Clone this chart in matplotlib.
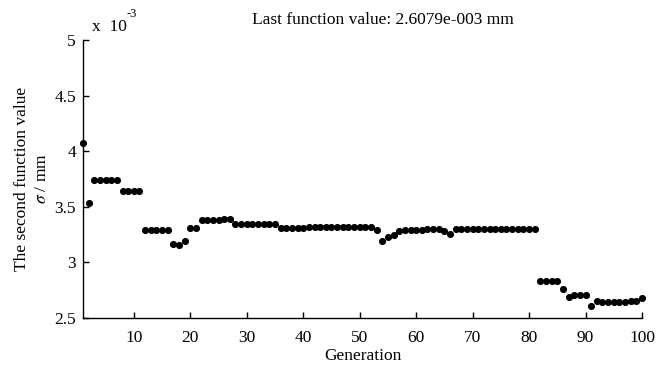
import numpy as np
import matplotlib
matplotlib.use("Agg")
import matplotlib.pyplot as plt

plt.rcParams['font.family'] = ['Liberation Serif', 'DejaVu Serif']
plt.rcParams['mathtext.fontset'] = 'stix'

# === Données (valeurs en 1e-3 mm) ===
generation = list(range(1, 101))
sigma_e3 = [
    4.070, 3.535, 3.740, 3.740, 3.740, 3.740, 3.740, 3.645, 3.645, 3.645,
    3.645, 3.288, 3.288, 3.288, 3.288, 3.288, 3.168, 3.153, 3.190, 3.310,
    3.310, 3.381, 3.381, 3.381, 3.381, 3.393, 3.393, 3.345, 3.345, 3.345,
    3.345, 3.345, 3.345, 3.345, 3.345, 3.308, 3.308, 3.308, 3.308, 3.308,
    3.320, 3.320, 3.320, 3.320, 3.320, 3.320, 3.320, 3.320, 3.320, 3.320,
    3.320, 3.320, 3.288, 3.190, 3.226, 3.244, 3.280, 3.290, 3.290, 3.290,
    3.290, 3.300, 3.300, 3.300, 3.285, 3.255, 3.300, 3.300, 3.300, 3.300,
    3.300, 3.300, 3.300, 3.300, 3.300, 3.300, 3.300, 3.300, 3.300, 3.300,
    3.300, 2.835, 2.835, 2.835, 2.835, 2.760, 2.690, 2.705, 2.705, 2.705,
    2.608, 2.657, 2.644, 2.644, 2.644, 2.644, 2.644, 2.653, 2.653, 2.677,
]
yticks = [2.5, 3, 3.5, 4, 4.5, 5]
ytick_labels = ['2.5', '3', '3.5', '4', '4.5', '5']
xticks = [10, 20, 30, 40, 50, 60, 70, 80, 90, 100]
titre = 'Last function value: 2.6079e-003 mm'

# === Figure ===
fig = plt.figure(figsize=(6.66, 3.68), dpi=100)
ax = fig.add_axes([0.1246, 0.1359, 0.8394, 0.7554])

ax.plot(generation, sigma_e3, linestyle='none', marker='o', color='k',
        markersize=4.1, clip_on=False)

ax.set_xlim(1, 100)
ax.set_ylim(2.5, 5)
ax.set_xticks(xticks)
ax.set_yticks(yticks)
ax.set_yticklabels(ytick_labels)

for s in ['top', 'right']:
    ax.spines[s].set_visible(False)
for s in ['left', 'bottom']:
    ax.spines[s].set_linewidth(1.0)
ax.tick_params(direction='in', length=4, width=1.0, labelsize=12.5)
ax.tick_params(axis='x', pad=8.5)
ax.tick_params(axis='y', pad=5)

ax.set_xlabel('Generation', fontsize=12.5, labelpad=1.5)
ax.set_ylabel('The second function value\n$\\sigma$ / mm', fontsize=12.5,
              labelpad=3, linespacing=1.35)

fig.text(383 / 666, 1 - 20 / 368, titre, ha='center', va='center', fontsize=12.5)
fig.text(92 / 666, 1 - 27 / 368, 'x  10', ha='left', va='center', fontsize=12.5)
fig.text(127 / 666, 1 - 14 / 368, '-3', ha='left', va='center', fontsize=9)

fig.savefig('out.png', dpi=100)
